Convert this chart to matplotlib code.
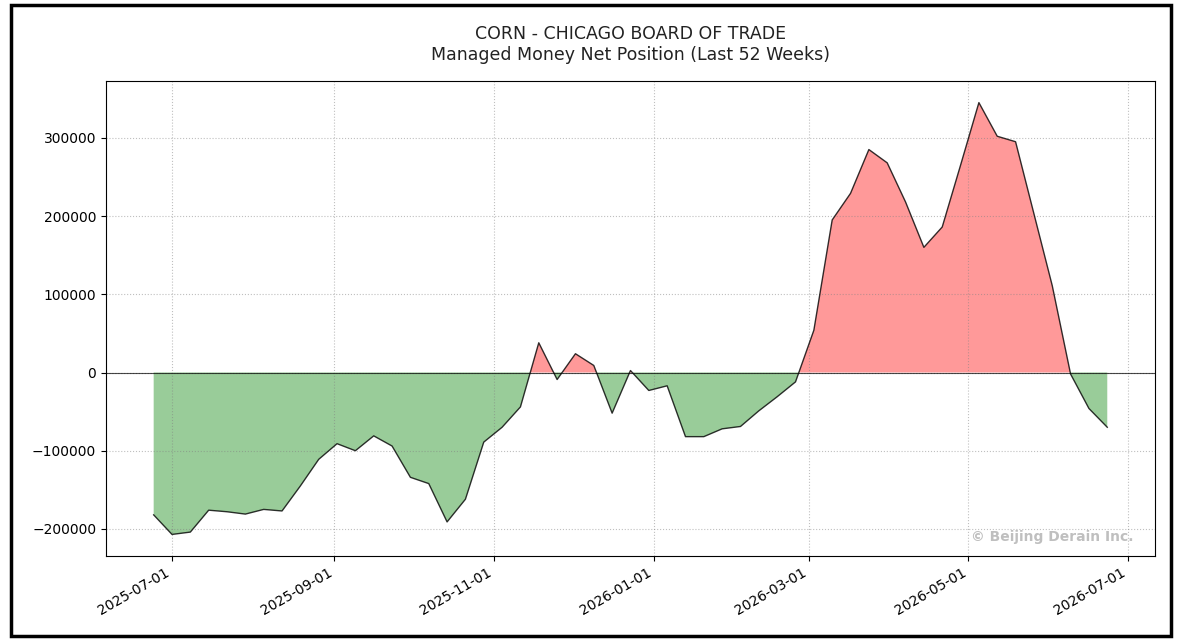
import matplotlib
matplotlib.use("Agg")
import matplotlib.pyplot as plt
import matplotlib.dates as mdates
import matplotlib.patches as patches
import numpy as np
import pandas as pd

# weekly managed money net position
dates = pd.date_range("2025-06-24", periods=53, freq="7D")
net_position = [
    -182000, -207000, -204000, -176000, -178000, -181000, -175000, -177000,
    -145000, -111000, -91000, -100000, -81000, -94000, -134000, -142000,
    -191000, -162000, -89000, -70000, -44000, 38000, -9000, 24000,
    9000, -52000, 2500, -23000, -17000, -82000, -82000, -72000,
    -69000, -49000, -31000, -12000, 54000, 195000, 229000, 285000,
    268000, 218000, 160000, 186000, 265000, 345000, 302000, 295000,
    203000, 111000, -2000, -46000, -70000,
]
title_line1 = "CORN - CHICAGO BOARD OF TRADE"
title_line2 = "Managed Money Net Position (Last 52 Weeks)"
watermark = "\u00a9 Beijing Derain Inc."

y = np.array(net_position, dtype=float)

fig = plt.figure(figsize=(11.79, 6.44), dpi=100)
ax = fig.add_axes([0.0899, 0.1366, 0.8897, 0.7376])

ax.fill_between(dates, y, 0, where=y >= 0, interpolate=True,
                color="red", alpha=0.4, linewidth=0)
ax.fill_between(dates, y, 0, where=y <= 0, interpolate=True,
                color="green", alpha=0.4, linewidth=0)
ax.plot(dates, y, color="black", linewidth=1.0, alpha=0.8)
ax.axhline(0, color="black", linewidth=0.8, alpha=0.7)

ax.grid(True, linestyle=":", color="gray", alpha=0.5)
ax.set_title(title_line1 + "\n" + title_line2, fontsize=12.5, pad=15,
             color="#222222")
ax.tick_params(labelsize=10)

ax.xaxis.set_major_locator(mdates.MonthLocator(bymonth=[1, 3, 5, 7, 9, 11]))
ax.xaxis.set_major_formatter(mdates.DateFormatter("%Y-%m-%d"))
for lbl in ax.get_xticklabels():
    lbl.set_rotation(30)
    lbl.set_ha("right")

ax.text(0.98, 0.025, watermark, transform=ax.transAxes, ha="right", va="bottom",
        fontsize=10, fontweight="bold", color="gray", alpha=0.5)

# outer frame around the whole picture
fig.patches.append(patches.Rectangle((0.0093, 0.0124), 0.984, 0.98,
                                     transform=fig.transFigure, fill=False,
                                     edgecolor="black", linewidth=2.5))

fig.savefig("out.png", dpi=100)
